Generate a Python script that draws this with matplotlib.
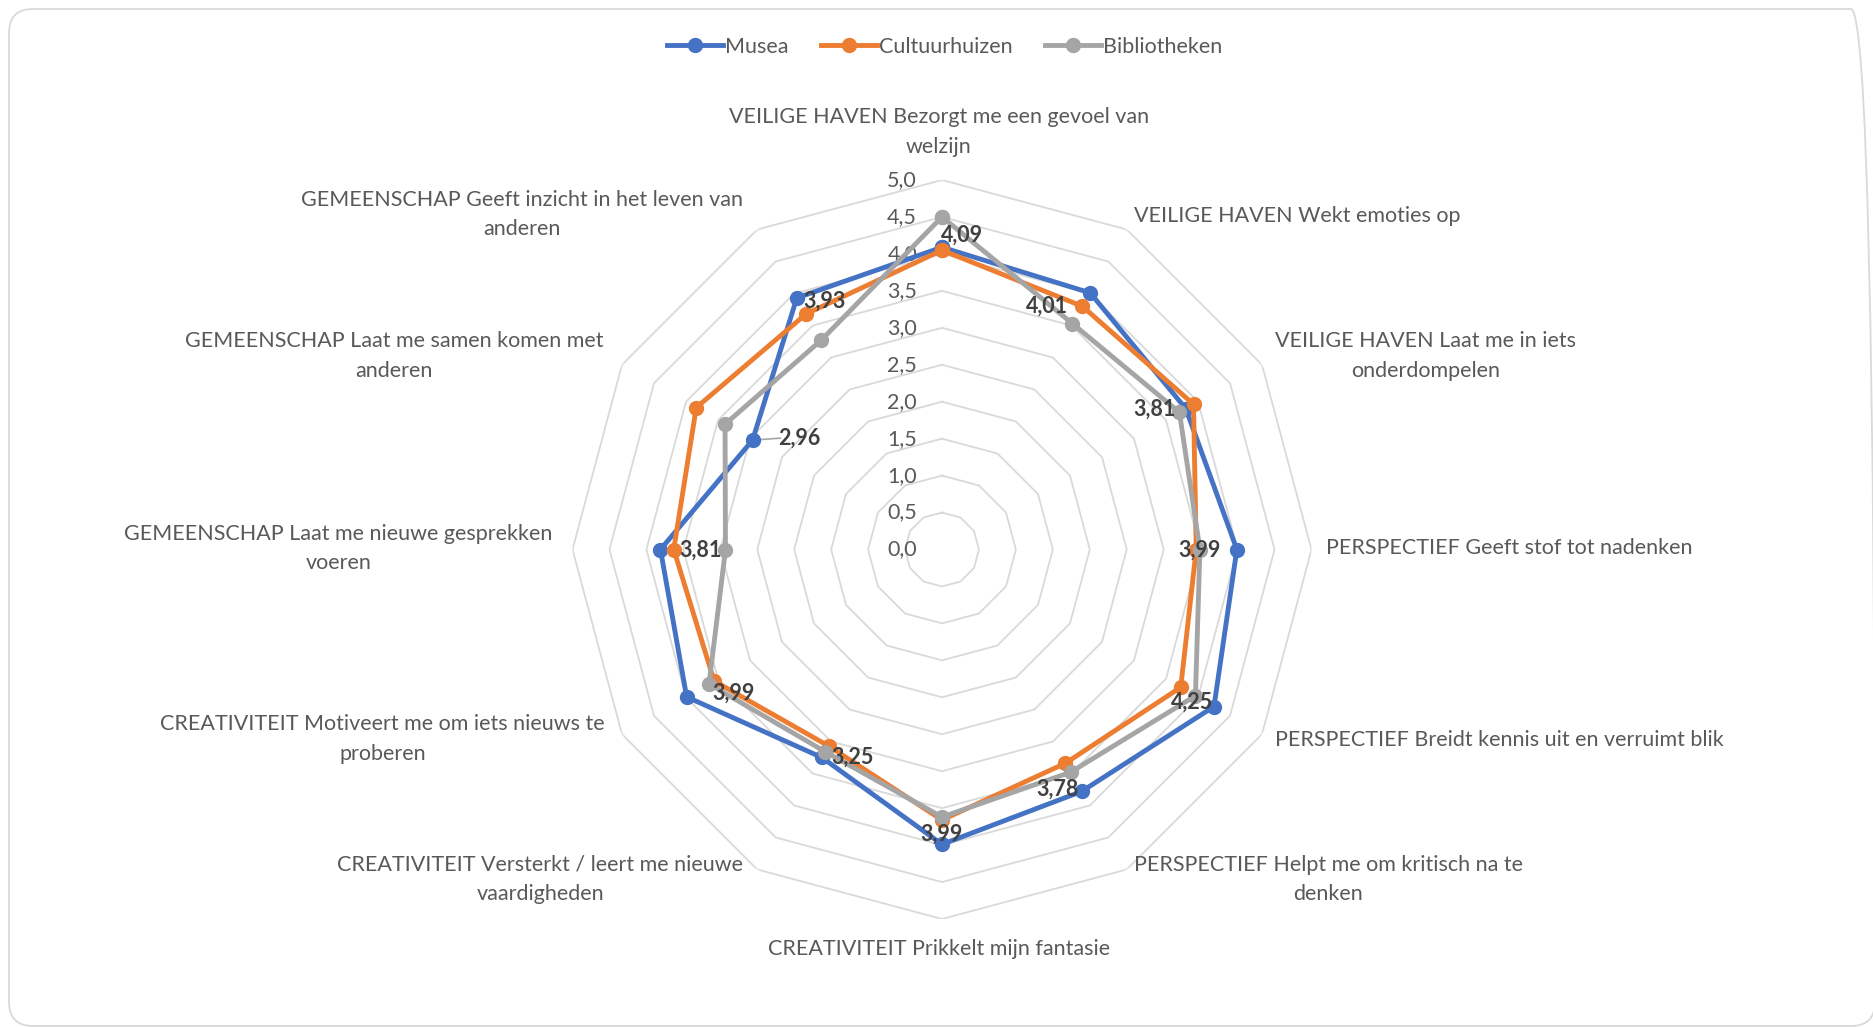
import numpy as np
import matplotlib
matplotlib.use("Agg")
import matplotlib.pyplot as plt
from matplotlib.patches import FancyBboxPatch
from matplotlib.transforms import IdentityTransform

plt.rcParams['font.family'] = ['Lato', 'DejaVu Sans']

categories = [
    "VEILIGE HAVEN Bezorgt me een gevoel van\nwelzijn",
    "VEILIGE HAVEN Wekt emoties op",
    "VEILIGE HAVEN Laat me in iets\nonderdompelen",
    "PERSPECTIEF Geeft stof tot nadenken",
    "PERSPECTIEF Breidt kennis uit en verruimt blik",
    "PERSPECTIEF Helpt me om kritisch na te\ndenken",
    "CREATIVITEIT Prikkelt mijn fantasie",
    "CREATIVITEIT Versterkt / leert me nieuwe\nvaardigheden",
    "CREATIVITEIT Motiveert me om iets nieuws te\nproberen",
    "GEMEENSCHAP Laat me nieuwe gesprekken\nvoeren",
    "GEMEENSCHAP Laat me samen komen met\nanderen",
    "GEMEENSCHAP Geeft inzicht in het leven van\nanderen",
]

musea = [4.09, 4.01, 3.81, 3.99, 4.25, 3.78, 3.99, 3.25, 3.99, 3.81, 2.96, 3.93]
cultuurhuizen = [4.05, 3.80, 3.93, 3.44, 3.73, 3.34, 3.66, 3.07, 3.56, 3.63, 3.84, 3.68]
bibliotheken = [4.50, 3.53, 3.71, 3.49, 3.96, 3.48, 3.62, 3.16, 3.64, 2.93, 3.39, 3.27]

series_names = ["Musea", "Cultuurhuizen", "Bibliotheken"]
colors = ["#4472C4", "#ED7D31", "#A5A5A5"]
rings = np.arange(0.5, 5.01, 0.5)

# label placement (pixel offsets from the 5,0 vertex)
cat_offsets = [(-3, 48, 'center'), (7, 14, 'left'), (13, 9, 'left'), (14, 1, 'left'),
               (13, -6, 'left'), (7, -10, 'left'), (-3, -30, 'center'), (-14, -10, 'right'),
               (-17, -5, 'right'), (-20, 1, 'right'), (-19, 9, 'right'), (-14, 15, 'right')]
# data label offsets (pixels from the Musea point)
lab_offsets = [(20, 12), (-43, -13), (-31, 0), (-37, -1), (-22, 4), (-24, 2),
               (0, 10), (31, 0), (47, 4), (40, -1), (47, 2), (28, -3)]

W, H = 1874, 1027
fig = plt.figure(figsize=(W / 100, H / 100), dpi=100)
fig.patch.set_facecolor('white')

border = FancyBboxPatch((9, 1), 1866, 1017, boxstyle="round,pad=0,rounding_size=24",
                        transform=IdentityTransform(), facecolor='none',
                        edgecolor='#D9D9D9', linewidth=1.3)
fig.patches.append(border)

cx, cy, R = 942, 549.5, 369.5
ax = fig.add_axes([(cx - R) / W, (H - cy - R) / H, 2 * R / W, 2 * R / H], projection='polar')
ax.set_theta_zero_location('N')
ax.set_theta_direction(-1)
ax.set_ylim(0, 5)
ax.grid(False)
ax.spines['polar'].set_visible(False)
ax.set_xticks([])
ax.set_yticks([])
ax.patch.set_alpha(0)

n = len(categories)
theta = np.linspace(0, 2 * np.pi, n, endpoint=False)
theta_c = np.append(theta, theta[0])

for r in rings:
    ax.plot(theta_c, [r] * (n + 1), color='#D9D9D9', lw=1.3, zorder=1)

for r in np.arange(0, 5.01, 0.5):
    ax.annotate(f"{r:.1f}".replace('.', ','), xy=(0, r), xytext=(-25, 0),
                textcoords='offset pixels', ha='right', va='center',
                fontsize=15.5, color='#595959', zorder=2)

data = [musea, cultuurhuizen, bibliotheken]
for k, (vals, name, col) in enumerate(zip(data, series_names, colors)):
    v = np.append(vals, vals[0])
    ax.plot(theta_c, v, color=col, lw=3.5, marker='o', markersize=10,
            label=name, zorder=3 + k, clip_on=False, solid_joinstyle='round')

for t, lab, (dx, dy, ha) in zip(theta, categories, cat_offsets):
    ax.annotate(lab, xy=(t, 5.0), xytext=(dx, dy), textcoords='offset pixels',
                ha=ha, va='center', multialignment='center', fontsize=15.5,
                color='#595959', linespacing=1.6)

for i, (t, v) in enumerate(zip(theta, musea)):
    dx, dy = lab_offsets[i]
    ax.annotate(f"{v:.2f}".replace('.', ','), xy=(t, v), xytext=(dx, dy),
                textcoords='offset pixels', ha='center', va='center',
                fontsize=15.5, fontweight='bold', color='#404040', zorder=10)

# leader line for 2,96
ax.annotate("", xy=(theta[10], musea[10]), xytext=(28, 2), textcoords='offset pixels',
            arrowprops=dict(arrowstyle='-', color='#A6A6A6', lw=1.2, shrinkA=0, shrinkB=5),
            zorder=2)

handles, labels = ax.get_legend_handles_labels()
fig.legend(handles, labels, loc='center', bbox_to_anchor=(945 / W, 1 - 47 / H), ncol=3,
           frameon=False, fontsize=15.5, handlelength=2.6, handletextpad=0.1,
           columnspacing=1.5, labelcolor='#595959')

fig.savefig("out.png", dpi=100, facecolor='white')
